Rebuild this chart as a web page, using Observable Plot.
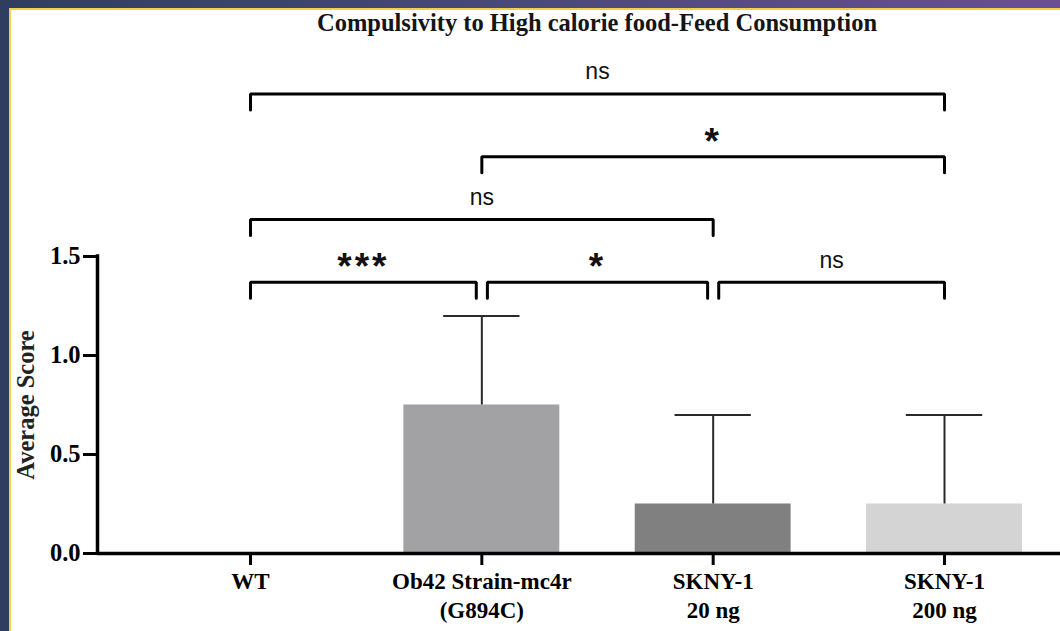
<!DOCTYPE html>
<html>
<head>
<meta charset="utf-8">
<script src="https://cdn.jsdelivr.net/npm/d3@7"></script>
<script src="https://cdn.jsdelivr.net/npm/@observablehq/plot@0.6"></script>
<style>
  html, body { margin: 0; padding: 0; }
  body {
    width: 1060px; height: 631px; overflow: hidden; position: relative;
    background: linear-gradient(90deg, #2f3e5e 0%, #4a4a78 50%, #6b4f92 100%);
  }
  #panel {
    position: absolute; left: 9px; top: 8px; right: 0; bottom: 0;
    background: #ffffff;
    border-left: 2px solid #f1d04c; border-top: 2px solid #f1d04c;
  }
  #title {
    position: absolute; top: 9px; left: 134px; width: 926px;
    text-align: center; font-family: "Liberation Serif", serif; font-weight: bold;
    font-size: 24.5px; color: #151515; line-height: 28px;
  }
  #chart { position: absolute; left: 0; top: 40px; }
  #chart svg { background: transparent !important; }
  .stars text { letter-spacing: 3px; }
</style>
</head>
<body>
<div id="panel"></div>
<div id="title">Compulsivity to High calorie food-Feed Consumption</div>
<div id="chart"></div>
<script>
// ---- data ----
const groups = ["WT", "Ob42 Strain-mc4r", "SKNY-1 20 ng", "SKNY-1 200 ng"];
const groupLabels = ["WT", "Ob42 Strain-mc4r\n(G894C)", "SKNY-1\n20 ng", "SKNY-1\n200 ng"];
const means = [0, 0.75, 0.25, 0.25];
const errors = [0, 0.45, 0.45, 0.45];
const yTicks = [0, 0.5, 1.0, 1.5];
// significance comparisons: from group index, to group index, stacking row, label
const compFrom = [0, 1, 2, 0, 1, 0];
const compTo = [1, 2, 3, 2, 3, 3];
const compRow = [0, 0, 0, 1, 2, 3];
const compLabel = ["***", "*", "ns", "ns", "*", "ns"];

// ---- styling / layout constants ----
const palette = ["#ffffff", "#a2a2a5", "#808080", "#d4d4d4"];
const xDomain = [-0.6614, 3.5014];
const barHalf = 0.337;
const capHalf = 0.165;
const levelBase = 1.37, levelStep = 0.317, drop = 0.081, gap = 0.024;

const data = groups.map((g, i) => ({i, group: g, mean: means[i], err: errors[i], top: means[i] + errors[i]}));

const comps = compFrom.map((f, k) => ({k, from: f, to: compTo[k], row: compRow[k], label: compLabel[k]}));
const bracketPts = [];
for (const c of comps) {
  const level = levelBase + c.row * levelStep;
  const sameRow = comps.filter(o => o.row === c.row && o !== c);
  const x1 = c.from + (sameRow.some(o => o.to === c.from) ? gap : 0);
  const x2 = c.to - (sameRow.some(o => o.from === c.to) ? gap : 0);
  c.level = level; c.mid = (x1 + x2) / 2;
  bracketPts.push({k: c.k, x: x1, y: level - drop}, {k: c.k, x: x1, y: level},
                  {k: c.k, x: x2, y: level}, {k: c.k, x: x2, y: level - drop});
}

const chart = Plot.plot({
  width: 1060, height: 591,
  marginLeft: 97, marginRight: 0, marginTop: 18, marginBottom: 78,
  style: {fontFamily: "Liberation Serif, serif", color: "#000", background: "transparent"},
  x: {domain: xDomain},
  y: {domain: [0, 2.5]},
  color: {domain: groups, range: palette},
  marks: [
    Plot.rectY(data.filter(d => d.mean > 0), {x1: d => d.i - barHalf, x2: d => d.i + barHalf, y: "mean", fill: "group"}),
    Plot.ruleX(data.filter(d => d.err > 0), {x: "i", y1: "mean", y2: "top", stroke: "#2a2a2a", strokeWidth: 2}),
    Plot.ruleY(data.filter(d => d.err > 0), {y: "top", x1: d => d.i - capHalf, x2: d => d.i + capHalf, stroke: "#2a2a2a", strokeWidth: 2}),
    Plot.ruleY([0], {stroke: "#000", strokeWidth: 3.5}),
    Plot.ruleX([xDomain[0]], {y1: 0, y2: yTicks[yTicks.length - 1], stroke: "#000", strokeWidth: 3.5, strokeLinecap: "square"}),
    Plot.axisY({ticks: yTicks, tickSize: 14, tickPadding: 3, strokeWidth: 3, tickFormat: d3.format(".1f"),
                fontSize: 24.5, fontWeight: "bold", label: null}),
    Plot.axisX({ticks: [0, 1, 2, 3], tickSize: 12, tickPadding: 3, strokeWidth: 3, tickFormat: i => groupLabels[i],
                fontSize: 23, fontWeight: "bold", lineHeight: 1.25, label: null}),
    Plot.text(["Average Score"], {frameAnchor: "left", textAnchor: "middle",
                y: () => (yTicks[0] + yTicks[yTicks.length - 1]) / 2,
                rotate: -90, dx: -71, fontSize: 24.5, fontWeight: "bold", fill: "#222"}),
    Plot.line(bracketPts, {x: "x", y: "y", z: "k", stroke: "#000", strokeWidth: 3, strokeLinejoin: "miter", curve: "linear"}),
    Plot.text(comps.filter(c => c.label === "ns"), {x: "mid", y: "level", text: "label", dy: -22,
                fontFamily: "Liberation Sans, Arial, sans-serif", fontSize: 23, fontWeight: "normal", fill: "#111"}),
    Plot.text(comps.filter(c => c.label !== "ns"), {x: "mid", y: "level", text: "label", dy: -15, className: "stars",
                fontFamily: "Liberation Sans, Arial, sans-serif", fontSize: 37, fontWeight: "bold", fill: "#111"})
  ]
});
document.getElementById("chart").appendChild(chart);
</script>
</body>
</html>
